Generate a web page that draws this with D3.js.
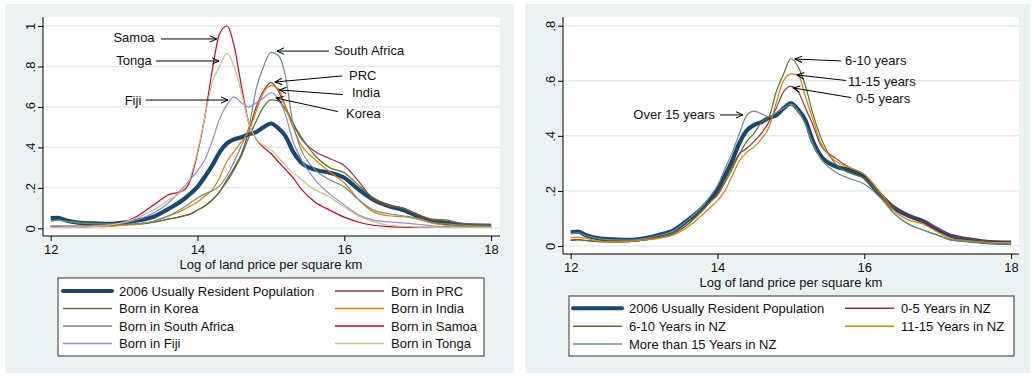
<!DOCTYPE html>
<html><head><meta charset="utf-8">
<script src="https://cdn.jsdelivr.net/npm/d3@7/dist/d3.min.js"></script>
<style>
html,body{margin:0;padding:0;background:#fff;}
text{font-family:"Liberation Sans",Arial,sans-serif;fill:#111;}
</style></head>
<body><svg id="c" width="1033" height="376"></svg>
<script>
// ---------- DATA ----------
const xGrid = [12.0,12.1,12.2,12.4,12.6,12.8,13.0,13.2,13.4,13.6,13.8,13.9,14.0,14.1,14.2,14.3,14.4,14.5,14.6,14.7,14.8,14.9,15.0,15.1,15.2,15.3,15.4,15.6,15.8,16.0,16.2,16.4,16.6,16.8,17.0,17.2,17.4,17.6,17.8,18.0];
const xTicks = [12,14,16,18];
const yTicksLeft = [0,0.2,0.4,0.6,0.8,1];
const yTicksRight = [0,0.2,0.4,0.6,0.8];
const xTitle = "Log of land price per square km";

const urp    = [0.05,0.052,0.04,0.027,0.024,0.022,0.028,0.04,0.057,0.095,0.14,0.17,0.205,0.255,0.31,0.375,0.42,0.44,0.45,0.465,0.475,0.5,0.518,0.495,0.455,0.38,0.33,0.29,0.275,0.25,0.19,0.14,0.11,0.09,0.06,0.035,0.025,0.017,0.013,0.012];
const prc    = [0.01,0.01,0.01,0.01,0.012,0.015,0.018,0.02,0.03,0.045,0.06,0.07,0.09,0.11,0.14,0.18,0.24,0.3,0.37,0.48,0.6,0.68,0.72,0.68,0.6,0.52,0.45,0.38,0.345,0.31,0.23,0.14,0.11,0.1,0.065,0.04,0.035,0.02,0.015,0.015];
const korea  = [0.035,0.04,0.035,0.03,0.025,0.022,0.02,0.022,0.03,0.045,0.06,0.07,0.09,0.11,0.14,0.18,0.23,0.29,0.36,0.45,0.53,0.6,0.635,0.63,0.585,0.52,0.46,0.36,0.3,0.275,0.21,0.15,0.115,0.1,0.07,0.045,0.04,0.025,0.02,0.02];
const india  = [0.005,0.005,0.005,0.006,0.008,0.01,0.015,0.02,0.035,0.06,0.09,0.11,0.13,0.16,0.19,0.25,0.33,0.38,0.43,0.48,0.58,0.67,0.705,0.69,0.6,0.5,0.42,0.34,0.28,0.225,0.14,0.08,0.062,0.057,0.045,0.025,0.015,0.01,0.008,0.008];
const safrica= [0.035,0.04,0.035,0.025,0.022,0.02,0.02,0.025,0.035,0.06,0.1,0.125,0.15,0.17,0.185,0.21,0.26,0.33,0.41,0.5,0.69,0.8,0.87,0.855,0.75,0.52,0.4,0.29,0.24,0.205,0.14,0.09,0.072,0.062,0.05,0.03,0.022,0.016,0.012,0.01];
const samoa  = [0.01,0.01,0.01,0.01,0.012,0.018,0.03,0.065,0.115,0.165,0.185,0.235,0.37,0.55,0.78,0.96,1.0,0.9,0.7,0.52,0.44,0.4,0.37,0.33,0.29,0.25,0.2,0.13,0.09,0.055,0.03,0.015,0.008,0.006,0.005,0.005,0.004,0.004,0.004,0.004];
const fiji   = [0.01,0.012,0.01,0.01,0.012,0.018,0.028,0.045,0.075,0.125,0.2,0.24,0.285,0.34,0.43,0.54,0.61,0.65,0.62,0.6,0.62,0.645,0.67,0.64,0.56,0.43,0.35,0.24,0.17,0.115,0.065,0.04,0.032,0.027,0.02,0.012,0.008,0.006,0.005,0.005];
const tonga  = [0.005,0.005,0.005,0.006,0.01,0.015,0.03,0.055,0.09,0.14,0.19,0.25,0.38,0.55,0.72,0.8,0.865,0.8,0.67,0.52,0.44,0.41,0.39,0.35,0.31,0.275,0.245,0.19,0.155,0.105,0.06,0.033,0.015,0.01,0.006,0.005,0.004,0.004,0.004,0.004];

const yrs0_5  = [0.02,0.022,0.02,0.016,0.015,0.016,0.022,0.03,0.045,0.08,0.13,0.16,0.19,0.24,0.29,0.335,0.355,0.38,0.41,0.45,0.5,0.56,0.58,0.56,0.5,0.44,0.37,0.32,0.285,0.26,0.2,0.143,0.11,0.09,0.065,0.035,0.028,0.02,0.015,0.014];
const yrs6_10 = [0.022,0.024,0.02,0.016,0.015,0.016,0.022,0.03,0.045,0.08,0.13,0.16,0.185,0.23,0.28,0.335,0.38,0.41,0.45,0.47,0.56,0.625,0.68,0.65,0.58,0.48,0.4,0.3,0.265,0.245,0.19,0.12,0.08,0.058,0.04,0.02,0.015,0.01,0.008,0.008];
const yrs11_15= [0.03,0.032,0.028,0.018,0.016,0.017,0.022,0.028,0.04,0.07,0.115,0.14,0.165,0.2,0.255,0.31,0.34,0.36,0.39,0.43,0.52,0.6,0.625,0.62,0.54,0.46,0.38,0.31,0.285,0.26,0.2,0.13,0.095,0.08,0.05,0.025,0.02,0.015,0.012,0.012];
const yrsOver15=[0.045,0.048,0.038,0.026,0.022,0.021,0.027,0.038,0.055,0.095,0.145,0.18,0.22,0.28,0.34,0.41,0.475,0.49,0.48,0.47,0.485,0.5,0.515,0.49,0.44,0.37,0.32,0.27,0.245,0.225,0.18,0.12,0.08,0.058,0.038,0.022,0.018,0.012,0.01,0.01];

const leftLabels  = ["2006 Usually Resident Population","Born in PRC","Born in Korea","Born in India","Born in South Africa","Born in Samoa","Born in Fiji","Born in Tonga"];
const rightLabels = ["2006 Usually Resident Population","0-5 Years in NZ","6-10 Years in NZ","11-15 Years in NZ","More than 15 Years in NZ"];

const leftAnn = [
  {t:"Samoa", tx:13.135, ty:0.941, a:"middle", x0:13.503, y0:0.936, x1:14.262, y1:0.936},
  {t:"Tonga", tx:13.135, ty:0.829, a:"middle", x0:13.435, y0:0.827, x1:14.293, y1:0.827},
  {t:"Fiji", tx:13.121, ty:0.634, a:"middle", x0:13.298, y0:0.634, x1:14.415, y1:0.634},
  {t:"South Africa", tx:15.86, ty:0.881, a:"start", x0:15.791, y0:0.876, x1:15.083, y1:0.876},
  {t:"PRC", tx:16.064, ty:0.755, a:"start", x0:15.969, y0:0.753, x1:15.056, y1:0.723},
  {t:"India", tx:16.105, ty:0.669, a:"start", x0:15.982, y0:0.661, x1:15.117, y1:0.684},
  {t:"Korea", tx:16.023, ty:0.567, a:"start", x0:15.914, y0:0.577, x1:15.07, y1:0.644}
];
const rightAnn = [
  {t:"Over 15 years", tx:13.966, ty:0.476, a:"end", x0:14.034, y0:0.476, x1:14.347, y1:0.476},
  {t:"6-10 years", tx:15.737, ty:0.672, a:"start", x0:15.683, y0:0.672, x1:15.056, y1:0.679},
  {t:"11-15 years", tx:15.778, ty:0.599, a:"start", x0:15.751, y0:0.601, x1:15.083, y1:0.621},
  {t:"0-5 years", tx:15.887, ty:0.534, a:"start", x0:15.819, y0:0.539, x1:15.029, y1:0.574}
];

// ---------- STYLE ----------
const C = {navy:"#1a476f", maroon:"#90353b", green:"#55752f", orange:"#e37e00", teal:"#6e8e84", cran:"#c10534", lav:"#938dd2", khaki:"#cac27e"};
const bg = "#eaf2f3";

const svg = d3.select("#c");
svg.append("defs").append("marker").attr("id","arr").attr("viewBox","-8 -5 10 10")
  .attr("refX",0).attr("refY",0).attr("markerWidth",10).attr("markerHeight",10)
  .attr("markerUnits","userSpaceOnUse").attr("orient","auto")
  .append("path").attr("d","M-7,-3.2L0,0L-7,3.2").attr("fill","none").attr("stroke","#000").attr("stroke-width",1);

const fmtY = d => d===0?"0":(d===1?"1":d3.format(".1f")(d).replace(/^0/,""));

function panel(cfg){
  const g = svg.append("g");
  g.append("rect").attr("x",cfg.bx).attr("y",4).attr("width",cfg.bw).attr("height",369).attr("fill",bg);
  g.append("rect").attr("x",cfg.pl).attr("y",cfg.pt).attr("width",cfg.pr-cfg.pl).attr("height",cfg.pb-cfg.pt).attr("fill","#fff");
  const x = d3.scaleLinear().domain([12,18]).range([cfg.x12, cfg.x18]);
  const y = d3.scaleLinear().domain([0,cfg.ymax]).range([cfg.y0, cfg.ytop]);
  g.append("g").selectAll("line").data(cfg.yTicks).join("line")
    .attr("x1",cfg.pl+1).attr("x2",cfg.pr).attr("y1",d=>y(d)).attr("y2",d=>y(d))
    .attr("stroke","#e2ecee").attr("stroke-width",1.5);
  const line = d3.line().x((d,i)=>x(xGrid[i])).y(d=>y(d)).curve(d3.curveMonotoneX);
  cfg.series.forEach(s=>{
    g.append("path").datum(s.v).attr("d",line).attr("fill","none")
      .attr("stroke",s.c).attr("stroke-width",s.w).attr("stroke-linejoin","round");
  });
  const ya = d3.axisLeft(y).tickValues(cfg.yTicks).tickSize(5).tickSizeOuter(0).tickFormat(fmtY);
  const yg = g.append("g").attr("transform",`translate(${cfg.pl},0)`).call(ya);
  yg.select(".domain").remove();
  yg.selectAll("line").attr("stroke","#000");
  yg.selectAll("text").attr("font-size",13).attr("x",null).attr("dy",null)
    .attr("text-anchor","middle").attr("dominant-baseline","central")
    .attr("transform","translate(-13,0) rotate(-90)").style("font-family","Liberation Sans, Arial, sans-serif").attr("fill","#111");
  const xa = d3.axisBottom(x).tickValues(xTicks).tickSize(5).tickSizeOuter(0).tickFormat(d3.format("d"));
  const xg = g.append("g").attr("transform",`translate(0,${cfg.pb})`).call(xa);
  xg.select(".domain").remove();
  xg.selectAll("line").attr("stroke","#000");
  xg.selectAll("text").attr("font-size",13).attr("dy","0.71em").attr("y",9).attr("fill","#111").style("font-family","Liberation Sans, Arial, sans-serif");
  g.append("line").attr("x1",cfg.pl).attr("x2",cfg.pl).attr("y1",cfg.pt).attr("y2",cfg.pb).attr("stroke","#000").attr("stroke-width",1);
  g.append("line").attr("x1",cfg.pl).attr("x2",cfg.pr).attr("y1",cfg.pb).attr("y2",cfg.pb).attr("stroke","#000").attr("stroke-width",1);
  g.append("text").attr("x",(cfg.x12+cfg.x18)/2).attr("y",cfg.pb+33).attr("text-anchor","middle")
    .attr("font-size",13).text(xTitle);
  cfg.ann.forEach(a=>{
    g.append("line").attr("x1",x(a.x0)).attr("y1",y(a.y0)).attr("x2",x(a.x1)).attr("y2",y(a.y1))
      .attr("stroke","#000").attr("stroke-width",1).attr("marker-end","url(#arr)");
    g.append("text").attr("x",x(a.tx)).attr("y",y(a.ty)).attr("text-anchor",a.a)
      .attr("dominant-baseline","central").attr("font-size",13).text(a.t);
  });
  const L = cfg.leg;
  g.append("rect").attr("x",L.x).attr("y",L.y).attr("width",L.w).attr("height",L.h)
    .attr("fill","#fff").attr("stroke","#333").attr("stroke-width",1);
  cfg.series.forEach((s,i)=>{
    const col = i%2, row = Math.floor(i/2);
    const sx = L.cols[col], sy = L.rows[row];
    g.append("line").attr("x1",sx).attr("x2",sx+L.sw).attr("y1",sy).attr("y2",sy)
      .attr("stroke",s.c).attr("stroke-width",s.w>2?4:1.6).attr("stroke-linecap",s.w>2?"round":"butt");
    g.append("text").attr("x",sx+L.sw+7).attr("y",sy).attr("dominant-baseline","central")
      .attr("font-size",13).text(s.label);
  });
}

const W = 4.2, w = 1.2;
panel({
  bx:5, bw:509, pl:43, pr:500, pt:17, pb:236,
  x12:50.7, x18:491.1, y0:228.3, ytop:26, ymax:1,
  yTicks:yTicksLeft,
  series:[
    {v:urp,c:C.navy,w:W},{v:prc,c:C.maroon,w:w},{v:korea,c:C.green,w:w},{v:india,c:C.orange,w:w},
    {v:safrica,c:C.teal,w:w},{v:samoa,c:C.cran,w:w},{v:fiji,c:C.lav,w:w},{v:tonga,c:C.khaki,w:w}
  ].map((s,i)=>Object.assign(s,{label:leftLabels[i]})),
  ann:leftAnn,
  leg:{x:58,y:278,w:426,h:78,cols:[63,335],rows:[291,308.5,326,343.5],sw:49}
});
panel({
  bx:525, bw:505, pl:563, pr:1019, pt:17, pb:254,
  x12:570.7, x18:1011.1, y0:246, ytop:25.7, ymax:0.8,
  yTicks:yTicksRight,
  series:[
    {v:urp,c:C.navy,w:W},{v:yrs0_5,c:C.maroon,w:w},{v:yrs6_10,c:C.green,w:w},{v:yrs11_15,c:C.orange,w:w},
    {v:yrsOver15,c:C.teal,w:w}
  ].map((s,i)=>Object.assign(s,{label:rightLabels[i]})),
  ann:rightAnn,
  leg:{x:569,y:296,w:445,h:60,cols:[573,845],rows:[308.3,326.3,344],sw:49}
});
</script></body></html>
